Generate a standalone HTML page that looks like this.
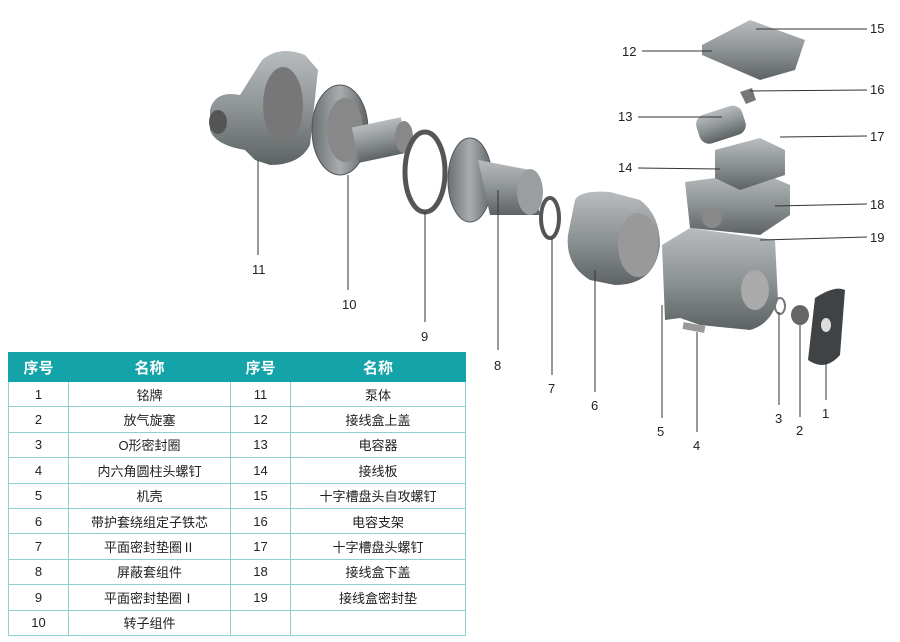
<!DOCTYPE html>
<html><head><meta charset="utf-8"><style>
body{margin:0;width:900px;height:642px;background:#fff;position:relative;overflow:hidden;font-family:"Liberation Sans","Noto Sans CJK SC",sans-serif}
svg{position:absolute;left:0;top:0}
table{position:absolute;left:8px;top:352px;border-collapse:collapse;width:458px;table-layout:fixed;font-size:13px;color:#222}
th{background:#13a3a8;color:#fff;height:26px;font-size:15px;font-weight:bold;border:1px solid #13a3a8}
td{height:24.4px;border:1px solid #8fd0d2;text-align:center;padding:0}
</style></head><body>
<svg width="900" height="642" viewBox="0 0 900 642">
<defs>
<linearGradient id="g" x1="0" y1="0" x2="0" y2="1"><stop offset="0" stop-color="#b8bcbe"/><stop offset="0.5" stop-color="#8e9396"/><stop offset="1" stop-color="#5d6265"/></linearGradient>
<linearGradient id="h" x1="0" y1="0" x2="1" y2="0"><stop offset="0" stop-color="#6a6f72"/><stop offset="0.5" stop-color="#a9adaf"/><stop offset="1" stop-color="#5f6467"/></linearGradient>
</defs>
<path d="M210 110 Q215 90 240 95 L262 60 Q280 45 305 55 L318 70 L310 145 Q300 165 270 165 L255 160 L245 150 Q215 145 210 130 Z" fill="url(#g)"/>
<ellipse cx="218" cy="122" rx="9" ry="12" fill="#555"/>
<ellipse cx="283" cy="105" rx="20" ry="38" fill="#777"/>
<ellipse cx="340" cy="130" rx="28" ry="45" fill="url(#h)" stroke="#555"/>
<ellipse cx="345" cy="130" rx="18" ry="32" fill="#888"/>
<rect x="355" y="122" width="50" height="36" fill="url(#g)" transform="rotate(-12 380 140)"/>
<ellipse cx="404" cy="137" rx="9" ry="16" fill="#888"/>
<ellipse cx="425" cy="172" rx="20" ry="40" fill="none" stroke="#555" stroke-width="5"/>
<ellipse cx="470" cy="180" rx="22" ry="42" fill="url(#h)" stroke="#555"/>
<path d="M478 160 L530 170 L540 215 L490 215 Z" fill="url(#g)"/>
<ellipse cx="530" cy="192" rx="13" ry="23" fill="#9a9ea0"/>
<ellipse cx="550" cy="218" rx="9" ry="20" fill="none" stroke="#555" stroke-width="4"/>
<path d="M575 200 Q580 190 610 192 L640 200 Q660 215 660 245 Q655 285 615 285 L590 280 Q565 265 568 235 Z" fill="url(#g)"/>
<ellipse cx="638" cy="245" rx="20" ry="32" fill="#999"/>
<path d="M662 245 L690 228 L775 240 L778 300 Q770 325 750 330 L700 325 L680 318 L665 320 Z" fill="url(#g)"/>
<ellipse cx="755" cy="290" rx="14" ry="20" fill="#aaa"/>
<rect x="683" y="324" width="22" height="7" fill="#999" transform="rotate(10 694 327)"/>
<ellipse cx="780" cy="306" rx="5" ry="8" fill="none" stroke="#777" stroke-width="2"/>
<ellipse cx="800" cy="315" rx="9" ry="10" fill="#666"/>
<path d="M815 298 Q835 285 845 290 L840 355 Q825 372 808 360 Z" fill="#3f4345"/>
<ellipse cx="826" cy="325" rx="5" ry="7" fill="#ddd"/>
<path d="M685 182 L760 172 L790 185 L790 215 L760 235 L690 228 Z" fill="url(#g)"/>
<ellipse cx="712" cy="218" rx="10" ry="10" fill="#888"/>
<path d="M715 150 L760 138 L785 150 L785 175 L740 190 L715 178 Z" fill="url(#g)"/>
<rect x="697" y="110" width="48" height="30" rx="10" fill="url(#g)" transform="rotate(-18 720 125)"/>
<path d="M740 92 L752 88 L756 100 L746 104 Z" fill="#777"/>
<path d="M702 45 L750 20 L805 40 L795 70 L760 80 L702 55 Z" fill="url(#g)"/>
<g stroke="#333" stroke-width="1" fill="none">
<line x1="258" y1="160" x2="258" y2="255"/>
<line x1="348" y1="175" x2="348" y2="290"/>
<line x1="425" y1="212" x2="425" y2="322"/>
<line x1="498" y1="190" x2="498" y2="350"/>
<line x1="552" y1="238" x2="552" y2="375"/>
<line x1="595" y1="270" x2="595" y2="392"/>
<line x1="662" y1="305" x2="662" y2="418"/>
<line x1="697" y1="332" x2="697" y2="432"/>
<line x1="779" y1="312" x2="779" y2="405"/>
<line x1="800" y1="325" x2="800" y2="417"/>
<line x1="826" y1="360" x2="826" y2="400"/>
<line x1="642" y1="51" x2="712" y2="51"/>
<line x1="756" y1="29" x2="867" y2="29"/>
<line x1="638" y1="117" x2="722" y2="117"/>
<line x1="750" y1="91" x2="867" y2="90"/>
<line x1="780" y1="137" x2="867" y2="136"/>
<line x1="638" y1="168" x2="720" y2="169"/>
<line x1="775" y1="206" x2="867" y2="204"/>
<line x1="760" y1="240" x2="867" y2="237"/>
</g>
<g font-size="13" fill="#222" font-family="Liberation Sans,sans-serif">
<text x="252" y="274">11</text><text x="342" y="309">10</text><text x="421" y="341">9</text>
<text x="494" y="370">8</text><text x="548" y="393">7</text><text x="591" y="410">6</text>
<text x="657" y="436">5</text><text x="693" y="450">4</text><text x="775" y="423">3</text>
<text x="796" y="435">2</text><text x="822" y="418">1</text>
<text x="622" y="56">12</text><text x="870" y="33">15</text><text x="618" y="121">13</text>
<text x="870" y="94">16</text><text x="870" y="141">17</text><text x="618" y="172">14</text>
<text x="870" y="209">18</text><text x="870" y="242">19</text>
</g>
</svg>
<table>
<colgroup><col style="width:60px"><col style="width:162px"><col style="width:60px"><col></colgroup>
<tr><th>序号</th><th>名称</th><th>序号</th><th>名称</th></tr>
<tr><td>1</td><td>铭牌</td><td>11</td><td>泵体</td></tr>
<tr><td>2</td><td>放气旋塞</td><td>12</td><td>接线盒上盖</td></tr>
<tr><td>3</td><td>O形密封圈</td><td>13</td><td>电容器</td></tr>
<tr><td>4</td><td>内六角圆柱头螺钉</td><td>14</td><td>接线板</td></tr>
<tr><td>5</td><td>机壳</td><td>15</td><td>十字槽盘头自攻螺钉</td></tr>
<tr><td>6</td><td>带护套绕组定子铁芯</td><td>16</td><td>电容支架</td></tr>
<tr><td>7</td><td>平面密封垫圈Ⅱ</td><td>17</td><td>十字槽盘头螺钉</td></tr>
<tr><td>8</td><td>屏蔽套组件</td><td>18</td><td>接线盒下盖</td></tr>
<tr><td>9</td><td>平面密封垫圈Ⅰ</td><td>19</td><td>接线盒密封垫</td></tr>
<tr><td>10</td><td>转子组件</td><td></td><td></td></tr>
</table>
</body></html>
